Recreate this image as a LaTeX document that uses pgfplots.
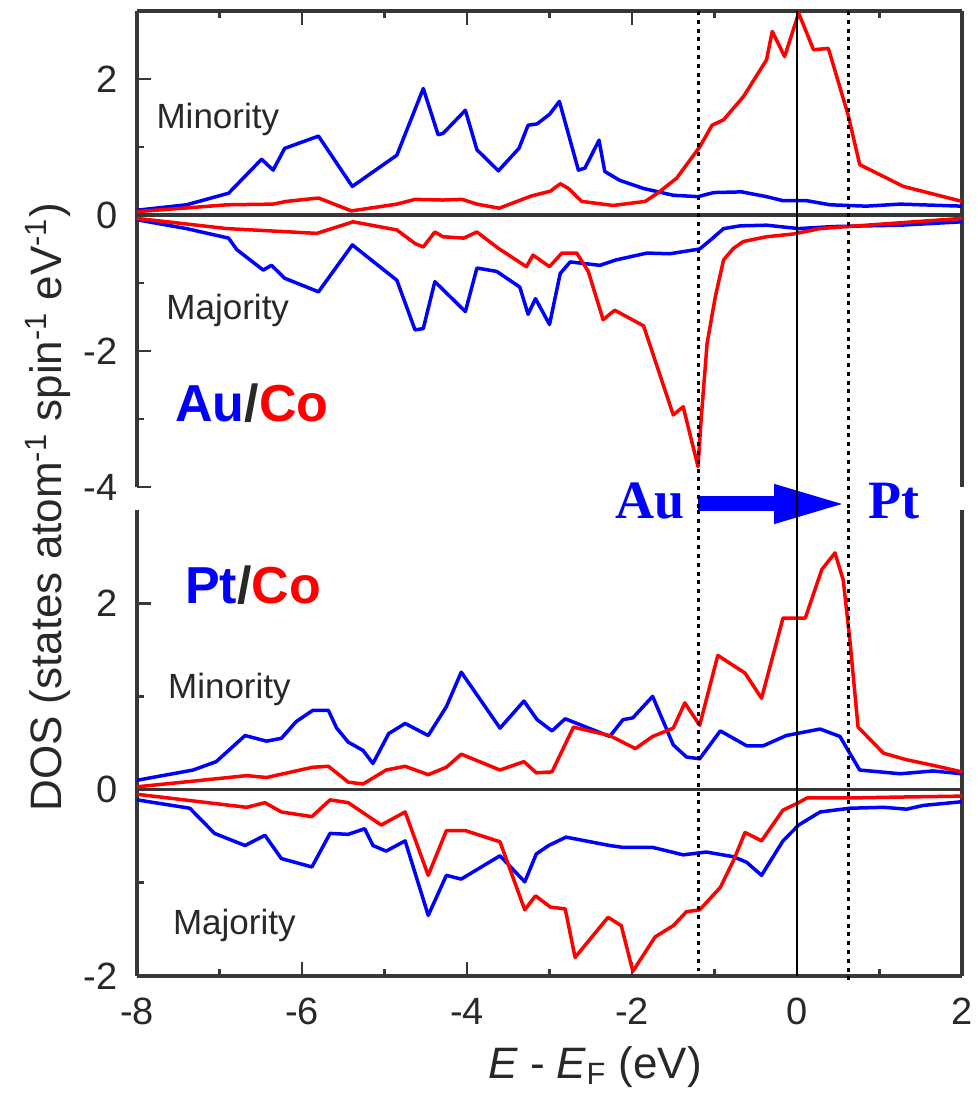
\documentclass[border=0pt]{standalone}
\usepackage{fontspec}
\setmainfont{Liberation Sans}
\newfontfamily\timesf{Liberation Serif}
\usepackage{pgfplots}
\pgfplotsset{compat=1.18}
\usetikzlibrary{arrows.meta}
\definecolor{myblue}{RGB}{0,0,255}
\definecolor{myred}{RGB}{255,0,0}
\definecolor{axgray}{RGB}{55,55,55}
\definecolor{txtgray}{RGB}{40,40,40}
\pgfplotsset{
  dosaxis/.style={
    scale only axis, width=412.5pt,
    xmin=-8, xmax=2,
    xtick={-8,-6,-4,-2,0,2}, minor x tick num=1,
    minor y tick num=1,
    tick align=inside,
    major tick length=7pt, minor tick length=3.5pt,
    tick style={axgray, line width=1.4pt},
    axis line style={axgray, line width=1.6pt},
    /pgf/number format/assume math mode=true,
    tick label style={font=\fontsize{19}{21}\selectfont, text=txtgray},
    yticklabel style={inner sep=0pt, xshift=-9.5pt},
    xticklabel style={inner sep=0pt, yshift=-11pt},
    clip=false,
    every axis plot/.append style={line width=1.75pt, line join=round},
  },
}
\tikzset{
  lbl/.style={font=\fontsize{17.5}{19}\selectfont, text=txtgray, inner sep=0pt},
  big/.style={font=\bfseries\fontsize{26}{28}\selectfont, inner sep=0pt, anchor=base west},
  vsolid/.style={black, line width=1.3pt},
  vdot/.style={black, line width=1.5pt, dash pattern=on 2pt off 2.4pt},
}
\begin{document}
\begin{tikzpicture}
\useasboundingbox (-68.5pt,-58.5pt) rectangle (419.5pt,488pt);
% ---------------- top panel: Au/Co ----------------
\begin{axis}[dosaxis, at={(0,244.5pt)}, anchor=south west, height=238pt,
  ymin=-4, ymax=3, ytick={-4,-2,0,2}, xticklabels={},
  axis x line*=top, axis y line*=box, ytick pos=left, xtick pos=right]
\addplot[axgray, line width=1.6pt] coordinates {(-8,0) (2,0)};
% Au minority
\addplot[myblue] coordinates {
(-8,0.07) (-7.40,0.15) (-6.89,0.32) (-6.49,0.82) (-6.35,0.66) (-6.21,0.98)
(-5.80,1.16) (-5.39,0.42) (-4.85,0.88) (-4.53,1.86) (-4.35,1.18) (-4.29,1.20)
(-4.02,1.54) (-3.88,0.96) (-3.62,0.65) (-3.37,0.98) (-3.26,1.32) (-3.15,1.34)
(-3.00,1.48) (-2.88,1.67) (-2.65,0.66) (-2.57,0.69) (-2.40,1.10) (-2.33,0.64)
(-2.15,0.51) (-1.86,0.39) (-1.50,0.29) (-1.20,0.27) (-1.01,0.33) (-0.67,0.34)
(-0.37,0.27) (-0.17,0.21) (0.12,0.21) (0.40,0.15) (0.84,0.13) (1.25,0.16) (2.0,0.13)};
% Au majority
\addplot[myblue] coordinates {
(-8,-0.07) (-7.40,-0.20) (-6.89,-0.34) (-6.79,-0.51) (-6.47,-0.81) (-6.37,-0.74)
(-6.21,-0.93) (-5.80,-1.13) (-5.39,-0.44) (-4.85,-0.96) (-4.63,-1.69) (-4.53,-1.67)
(-4.39,-0.98) (-4.02,-1.42) (-3.88,-0.78) (-3.64,-0.83) (-3.36,-1.06) (-3.26,-1.46)
(-3.17,-1.23) (-3.00,-1.61) (-2.87,-0.86) (-2.75,-0.69) (-2.39,-0.74) (-2.19,-0.66)
(-1.82,-0.56) (-1.54,-0.57) (-1.18,-0.50) (-1.05,-0.37) (-0.89,-0.20) (-0.69,-0.16)
(-0.37,-0.15) (0.02,-0.20) (0.44,-0.17) (1.25,-0.15) (2.0,-0.10)};
% Co minority
\addplot[myred] coordinates {
(-8,0.05) (-7.44,0.10) (-6.91,0.15) (-6.35,0.16) (-6.19,0.20) (-5.80,0.25)
(-5.40,0.06) (-4.85,0.16) (-4.63,0.23) (-4.29,0.22) (-4.06,0.23) (-3.88,0.16)
(-3.61,0.10) (-3.22,0.28) (-2.99,0.35) (-2.87,0.46) (-2.77,0.39) (-2.61,0.20)
(-2.23,0.14) (-1.84,0.20) (-1.68,0.33) (-1.46,0.54) (-1.18,1.00) (-1.03,1.32)
(-0.89,1.40) (-0.65,1.74) (-0.37,2.28) (-0.30,2.70) (-0.15,2.33) (0.02,2.97)
(0.20,2.43) (0.38,2.45) (0.62,1.47) (0.76,0.74) (1.29,0.42) (2.0,0.20)};
% Co majority
\addplot[myred] coordinates {
(-8,-0.05) (-6.91,-0.20) (-5.82,-0.27) (-5.38,-0.10) (-4.85,-0.22) (-4.63,-0.42)
(-4.53,-0.47) (-4.39,-0.25) (-4.29,-0.32) (-4.04,-0.34) (-3.88,-0.25) (-3.62,-0.49)
(-3.28,-0.76) (-3.20,-0.59) (-3.00,-0.76) (-2.85,-0.56) (-2.67,-0.56) (-2.53,-0.83)
(-2.35,-1.54) (-2.21,-1.40) (-1.86,-1.63) (-1.50,-2.94) (-1.38,-2.82) (-1.20,-3.70)
(-1.16,-2.97) (-1.09,-1.89) (-0.99,-1.20) (-0.89,-0.66) (-0.77,-0.49) (-0.65,-0.39)
(-0.37,-0.32) (-0.05,-0.28) (0.28,-0.20) (0.84,-0.15) (2.0,-0.05)};
\node[lbl] at (axis cs:-7.02,1.40) {Minority};
\node[lbl] at (axis cs:-6.90,-1.40) {Majority};
\node[big] at (axis cs:-7.54,-3.04) {\textcolor{myblue}{Au}\textcolor{txtgray}{/}\textcolor{myred}{Co}};
% arrow Au -> Pt in the gap
\draw[myblue, line width=7.5pt, -{Triangle[length=37pt,width=17.5pt]}] (axis cs:-1.2,-4.25) -- (axis cs:0.62,-4.25);
\node[anchor=base east, inner sep=0pt, text=myblue, font=\timesf\bfseries\fontsize{27}{29}\selectfont] at (axis cs:-1.36,-4.47) {Au};
\node[anchor=base west, inner sep=0pt, text=myblue, font=\timesf\bfseries\fontsize{27}{29}\selectfont] at (axis cs:0.86,-4.47) {Pt};
\draw[vsolid] (axis cs:0,3) -- (axis cs:0,-4.338);
\draw[vdot] (axis cs:-1.2,3) -- (axis cs:-1.2,-4.338);
\draw[vdot] (axis cs:0.62,3) -- (axis cs:0.62,-4.338);
\end{axis}
% ---------------- bottom panel: Pt/Co ----------------
\begin{axis}[dosaxis, at={(0,0)}, anchor=south west, height=233pt,
  ymin=-2, ymax=3, ytick={-2,0,2},
  axis x line*=bottom, axis y line*=box, ytick pos=left, xtick pos=left]
\addplot[axgray, line width=1.6pt] coordinates {(-8,0) (2,0)};
% Pt minority
\addplot[myblue] coordinates {
(-8,0.10) (-7.32,0.21) (-7.04,0.30) (-6.69,0.58) (-6.43,0.52) (-6.25,0.55)
(-6.07,0.73) (-5.87,0.85) (-5.68,0.85) (-5.58,0.66) (-5.44,0.51) (-5.26,0.42)
(-5.14,0.28) (-4.95,0.60) (-4.75,0.71) (-4.47,0.58) (-4.25,0.89) (-4.07,1.26)
(-3.60,0.66) (-3.31,0.95) (-3.15,0.75) (-2.97,0.63) (-2.81,0.76) (-2.27,0.57)
(-2.11,0.75) (-1.99,0.77) (-1.75,1.00) (-1.50,0.48) (-1.34,0.35) (-1.18,0.33)
(-0.93,0.63) (-0.61,0.47) (-0.41,0.47) (-0.13,0.58) (0.28,0.65) (0.52,0.57)
(0.76,0.21) (1.25,0.17) (1.65,0.20) (2.0,0.17)};
% Pt majority
\addplot[myblue] coordinates {
(-8,-0.11) (-7.36,-0.20) (-7.06,-0.47) (-6.69,-0.60) (-6.45,-0.49) (-6.25,-0.74)
(-5.88,-0.83) (-5.66,-0.47) (-5.44,-0.48) (-5.24,-0.42) (-5.14,-0.60) (-4.98,-0.66)
(-4.75,-0.55) (-4.47,-1.35) (-4.25,-0.92) (-4.07,-0.96) (-3.60,-0.71) (-3.30,-0.99)
(-3.16,-0.69) (-3.01,-0.60) (-2.80,-0.51) (-2.27,-0.60) (-2.11,-0.62) (-1.75,-0.62)
(-1.38,-0.70) (-1.10,-0.67) (-0.77,-0.72) (-0.61,-0.78) (-0.43,-0.92) (-0.17,-0.55)
(0.02,-0.38) (0.28,-0.24) (0.64,-0.20) (1.05,-0.19) (1.33,-0.21) (1.53,-0.17) (2.0,-0.13)};
% Co minority
\addplot[myred] coordinates {
(-8,0.03) (-7.44,0.08) (-6.67,0.15) (-6.43,0.13) (-5.87,0.24) (-5.68,0.25)
(-5.44,0.08) (-5.26,0.06) (-4.98,0.21) (-4.75,0.25) (-4.47,0.16) (-4.25,0.24)
(-4.07,0.38) (-3.60,0.21) (-3.31,0.30) (-3.16,0.18) (-2.97,0.19) (-2.71,0.67)
(-2.27,0.58) (-1.96,0.44) (-1.75,0.57) (-1.50,0.66) (-1.36,0.93) (-1.18,0.69)
(-0.96,1.44) (-0.63,1.25) (-0.43,0.98) (-0.17,1.84) (0.10,1.84) (0.30,2.36)
(0.46,2.54) (0.56,2.25) (0.64,1.61) (0.74,0.67) (1.05,0.39) (1.33,0.32)
(1.65,0.26) (2.0,0.19)};
% Co majority
\addplot[myred] coordinates {
(-8,-0.05) (-6.67,-0.19) (-6.45,-0.14) (-6.25,-0.24) (-5.88,-0.29) (-5.66,-0.11)
(-5.44,-0.14) (-5.24,-0.26) (-5.04,-0.38) (-4.75,-0.24) (-4.47,-0.92) (-4.25,-0.44)
(-4.02,-0.44) (-3.60,-0.56) (-3.30,-1.29) (-3.17,-1.14) (-2.99,-1.26) (-2.81,-1.28)
(-2.69,-1.80) (-2.29,-1.37) (-2.13,-1.46) (-1.99,-1.95) (-1.72,-1.58) (-1.50,-1.46)
(-1.34,-1.31) (-1.18,-1.29) (-0.93,-1.05) (-0.77,-0.76) (-0.63,-0.46) (-0.43,-0.55)
(-0.17,-0.22) (0.02,-0.14) (0.12,-0.09) (0.64,-0.09) (1.25,-0.08) (2.0,-0.07)};
\node[lbl] at (axis cs:-6.88,1.07) {Minority};
\node[lbl] at (axis cs:-6.82,-1.46) {Majority};
\node[big] at (axis cs:-7.42,2.0) {\textcolor{myblue}{Pt}\textcolor{txtgray}{/}\textcolor{myred}{Co}};
\draw[vsolid] (axis cs:0,3) -- (axis cs:0,-2);
\draw[vdot] (axis cs:-1.2,3) -- (axis cs:-1.2,-1.95);
\draw[vdot] (axis cs:0.62,3) -- (axis cs:0.62,-2.05);
\end{axis}
% axis labels
\node[rotate=90, anchor=base, inner sep=0pt, text=txtgray, font=\fontsize{22}{24}\selectfont]
  at (-37.5pt,234.25pt) {DOS (states atom\textsuperscript{-1} spin\textsuperscript{-1} eV\textsuperscript{-1})};
\node[anchor=base, inner sep=0pt, text=txtgray, font=\fontsize{22}{24}\selectfont]
  at (229pt,-51pt) {\textit{E} - \textit{E}\textsubscript{F} (eV)};
\end{tikzpicture}
\end{document}
